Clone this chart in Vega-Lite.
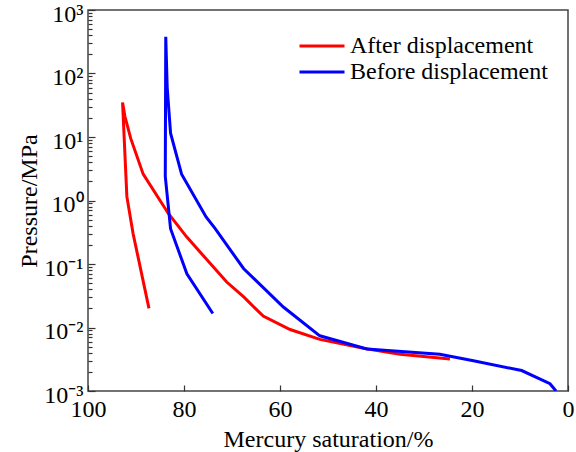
{
  "$schema": "https://vega.github.io/schema/vega-lite/v6.json",
  "autosize": {"type": "none"},
  "padding": {"left": 88, "top": 10, "right": 8, "bottom": 61},
  "width": 480,
  "height": 381,
  "background": "white",
  "config": {
    "view": {"stroke": "#444444", "strokeWidth": 1.5},
    "font": "Liberation Serif",
    "axis": {"labelFont": "Liberation Serif", "titleFont": "Liberation Serif", "labelColor": "black", "titleColor": "black", "titleFontWeight": "normal", "labelFontSize": 24, "titleFontSize": 24, "grid": false, "domain": false, "tickColor": "#333333", "tickWidth": 1.2},
    "legend": {"labelFont": "Liberation Serif"}
  },
  "data": {
    "values": [
      {"series": "After displacement", "order": 1, "sat": 87.3, "p": 0.020},
      {"series": "After displacement", "order": 2, "sat": 90.6, "p": 0.30},
      {"series": "After displacement", "order": 3, "sat": 91.9, "p": 1.15},
      {"series": "After displacement", "order": 4, "sat": 92.8, "p": 35},
      {"series": "After displacement", "order": 5, "sat": 92.3, "p": 21},
      {"series": "After displacement", "order": 6, "sat": 91.1, "p": 9.5},
      {"series": "After displacement", "order": 7, "sat": 88.5, "p": 2.6},
      {"series": "After displacement", "order": 8, "sat": 83.3, "p": 0.63},
      {"series": "After displacement", "order": 9, "sat": 79.5, "p": 0.27},
      {"series": "After displacement", "order": 10, "sat": 76.7, "p": 0.156},
      {"series": "After displacement", "order": 11, "sat": 71.1, "p": 0.052},
      {"series": "After displacement", "order": 12, "sat": 67.5, "p": 0.030},
      {"series": "After displacement", "order": 13, "sat": 63.5, "p": 0.0151},
      {"series": "After displacement", "order": 14, "sat": 57.9, "p": 0.0093},
      {"series": "After displacement", "order": 15, "sat": 51.7, "p": 0.0065},
      {"series": "After displacement", "order": 16, "sat": 42.6, "p": 0.0047},
      {"series": "After displacement", "order": 17, "sat": 35.0, "p": 0.0038},
      {"series": "After displacement", "order": 18, "sat": 24.6, "p": 0.0032},
      {"series": "Before displacement", "order": 1, "sat": 74.0, "p": 0.0166},
      {"series": "Before displacement", "order": 2, "sat": 79.4, "p": 0.07},
      {"series": "Before displacement", "order": 3, "sat": 82.8, "p": 0.36},
      {"series": "Before displacement", "order": 4, "sat": 83.9, "p": 2.4},
      {"series": "Before displacement", "order": 5, "sat": 83.8, "p": 380},
      {"series": "Before displacement", "order": 6, "sat": 83.5, "p": 60},
      {"series": "Before displacement", "order": 7, "sat": 82.8, "p": 11.5},
      {"series": "Before displacement", "order": 8, "sat": 80.5, "p": 2.6},
      {"series": "Before displacement", "order": 9, "sat": 75.4, "p": 0.55},
      {"series": "Before displacement", "order": 10, "sat": 73.5, "p": 0.36},
      {"series": "Before displacement", "order": 11, "sat": 67.6, "p": 0.085},
      {"series": "Before displacement", "order": 12, "sat": 59.3, "p": 0.021},
      {"series": "Before displacement", "order": 13, "sat": 51.7, "p": 0.0074},
      {"series": "Before displacement", "order": 14, "sat": 41.9, "p": 0.0046},
      {"series": "Before displacement", "order": 15, "sat": 26.7, "p": 0.0038},
      {"series": "Before displacement", "order": 16, "sat": 19.7, "p": 0.0030},
      {"series": "Before displacement", "order": 17, "sat": 9.65, "p": 0.0021},
      {"series": "Before displacement", "order": 18, "sat": 3.75, "p": 0.0013},
      {"series": "Before displacement", "order": 19, "sat": 2.5, "p": 0.001}
    ]
  },
  "mark": {"type": "line", "strokeWidth": 3, "clip": true},
  "encoding": {
    "x": {
      "field": "sat", "type": "quantitative",
      "scale": {"domain": [100, 0], "nice": false, "zero": false},
      "axis": {"title": "Mercury saturation/%", "values": [100, 80, 60, 40, 20, 0], "tickSize": -6, "labelPadding": 12, "titlePadding": 6, "labelFlush": false, "labelOverlap": false}
    },
    "y": {
      "field": "p", "type": "quantitative",
      "scale": {"type": "log", "domain": [0.001, 1000], "nice": false},
      "axis": {
        "title": "Pressure/MPa",
        "values": [0.001,0.002,0.003,0.004,0.005,0.006,0.007,0.008,0.009,0.01,0.02,0.03,0.04,0.05,0.06,0.07,0.08,0.09,0.1,0.2,0.3,0.4,0.5,0.6,0.7,0.8,0.9,1,2,3,4,5,6,7,8,9,10,20,30,40,50,60,70,80,90,100,200,300,400,500,600,700,800,900,1000],
        "labelExpr": "abs(log(datum.value)/LN10 - round(log(datum.value)/LN10)) > 0.001 ? '' : (round(log(datum.value)/LN10) == 3 ? '10³' : round(log(datum.value)/LN10) == 2 ? '10²' : round(log(datum.value)/LN10) == 1 ? '10¹' : round(log(datum.value)/LN10) == 0 ? '10⁰' : round(log(datum.value)/LN10) == -1 ? '10⁻¹' : round(log(datum.value)/LN10) == -2 ? '10⁻²' : '10⁻³')",
        "tickSize": {"condition": {"test": "abs(log(datum.value)/LN10 - round(log(datum.value)/LN10)) < 0.001", "value": -7}, "value": -4},
        "labelPadding": 12,
        "labelOffset": 4,
        "titlePadding": 2,
        "labelFlush": false,
        "labelOverlap": false
      }
    },
    "color": {
      "field": "series", "type": "nominal",
      "scale": {"domain": ["After displacement", "Before displacement"], "range": ["#ff0000", "#0000ff"]},
      "legend": {"title": null, "orient": "none", "legendX": 222, "legendY": 24, "symbolType": "M-3,0H3", "symbolSize": 225, "symbolStrokeWidth": 3, "symbolFillColor": "transparent", "labelFontSize": 24, "labelColor": "black", "labelOffset": 16, "labelLimit": 0, "rowPadding": 2}
    },
    "order": {"field": "order", "type": "quantitative"}
  }
}
